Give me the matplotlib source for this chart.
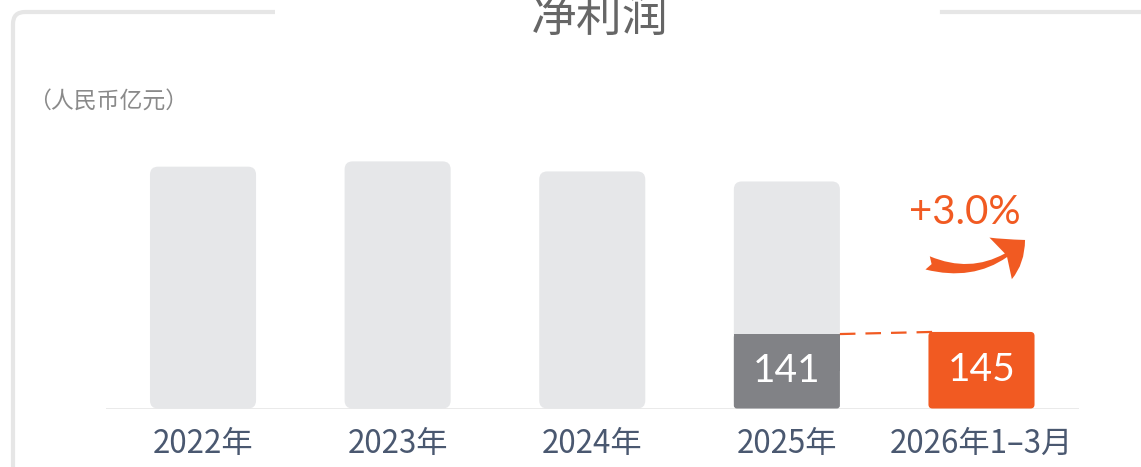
import numpy as np
import matplotlib
matplotlib.use('Agg')
import matplotlib.pyplot as plt
from matplotlib.patches import FancyBboxPatch, FancyArrowPatch, PathPatch
from matplotlib.path import Path

plt.rcParams['font.family'] = ['Noto Sans CJK SC', 'DejaVu Sans']

# data (人民币亿元)
categories = ['2022年', '2023年', '2024年', '2025年', '2026年1–3月']
full_year = [458, 468, 449, 430]     # light gray background bars
q1_prev = 141                         # 2025 first quarter
q1_curr = 145                         # 2026 first quarter
growth_text = '+3.0%'

LIGHT = '#E6E7E9'
DARK = '#818286'
ORANGE = '#F15A22'
TICK = '#4A5870'

W, H = 1141, 467
fig = plt.figure(figsize=(W / 100, H / 100), dpi=100)

# axes placed so category spacing matches the reference
left, right = 105.7, 1078.8
base_y, top_y = 408.5, 144.5
ax = fig.add_axes([left / W, (H - base_y) / H, (right - left) / W, (base_y - top_y) / H])
ax.set_xlim(-0.5, 4.5)
ax.set_ylim(0, 500)
for s in ax.spines.values():
    s.set_visible(False)
ax.set_yticks([])
x = np.arange(len(categories))
ax.set_xticks(x)
ax.set_xticklabels(categories, fontsize=22.5, color=TICK)
ax.tick_params(axis='x', length=0, pad=14)

# data units per pixel, to keep the rounded corners round
xu = 5 / (right - left)
yu = 500 / (base_y - top_y)
aspect = yu / xu
bw = 0.545


def rounded_bar(xc, h, color, r_px, z=2):
    p = FancyBboxPatch((xc - bw / 2, 0), bw, h,
                       boxstyle=f'round,pad=0,rounding_size={r_px * xu}',
                       mutation_aspect=aspect, fc=color, ec='none', zorder=z)
    ax.add_patch(p)


for i, v in enumerate(full_year):
    rounded_bar(x[i], v, LIGHT, 8)

# 2025 Q1 segment + 2026 Q1 bar
rounded_bar(x[3], q1_prev, DARK, 3, z=3)
ax.bar(x[3], q1_prev * 0.5, bottom=q1_prev * 0.5, width=bw, color=DARK, zorder=3)
rounded_bar(x[4], q1_curr, ORANGE, 4, z=3)

num_font = ['Lato', 'DejaVu Sans']
ax.text(x[3], q1_prev / 2, str(q1_prev), ha='center', va='center', color='white',
        fontsize=28, family=num_font, zorder=4)
ax.text(x[4], q1_curr / 2, str(q1_curr), ha='center', va='center', color='white',
        fontsize=28, family=num_font, zorder=4)

# dashed connector
ax.plot([x[3] + bw / 2, x[4] - bw / 2 + 0.02], [q1_prev, q1_curr], color=ORANGE,
        lw=1.6, dashes=(7, 4.5), zorder=4, solid_capstyle='butt')

# baseline
ax.axhline(0, color='#E8E8E8', lw=2, zorder=1)

# growth label and arrow
fig.text(965 / W, (H - 213) / H, growth_text, ha='center', va='center', color=ORANGE,
         fontsize=29, family=num_font)
arr = FancyArrowPatch((925, H - 262), (1027, H - 238), transform=None,
                      connectionstyle='arc3,rad=0.32',
                      arrowstyle='fancy,head_length=22,head_width=34,tail_width=10',
                      color=ORANGE, lw=0)
fig.add_artist(arr)

# title (cut by the top edge, as in the reference) and unit
fig.text(600 / W, (H - 18) / H, '净利润', ha='center', va='center', color='#666666',
         fontsize=33, fontweight='light')
fig.text(28 / W, (H - 101) / H, '（人民币亿元）', ha='left', va='center', color='#8A8A8A',
         fontsize=16.5, style='italic', fontweight='light')

# card border lines
c = 12
verts = [(275, H - 12), (13 + c, H - 12), (13, H - 12), (13, H - 12 - c), (13, 0)]
codes = [Path.MOVETO, Path.LINETO, Path.CURVE3, Path.CURVE3, Path.LINETO]
fig.add_artist(PathPatch(Path(verts, codes), transform=None, fc='none', ec='#E6E6E6', lw=3))
fig.add_artist(plt.Line2D([942, W], [H - 12, H - 12], transform=None, color='#E6E6E6', lw=3))

fig.savefig('out.png', dpi=100)
